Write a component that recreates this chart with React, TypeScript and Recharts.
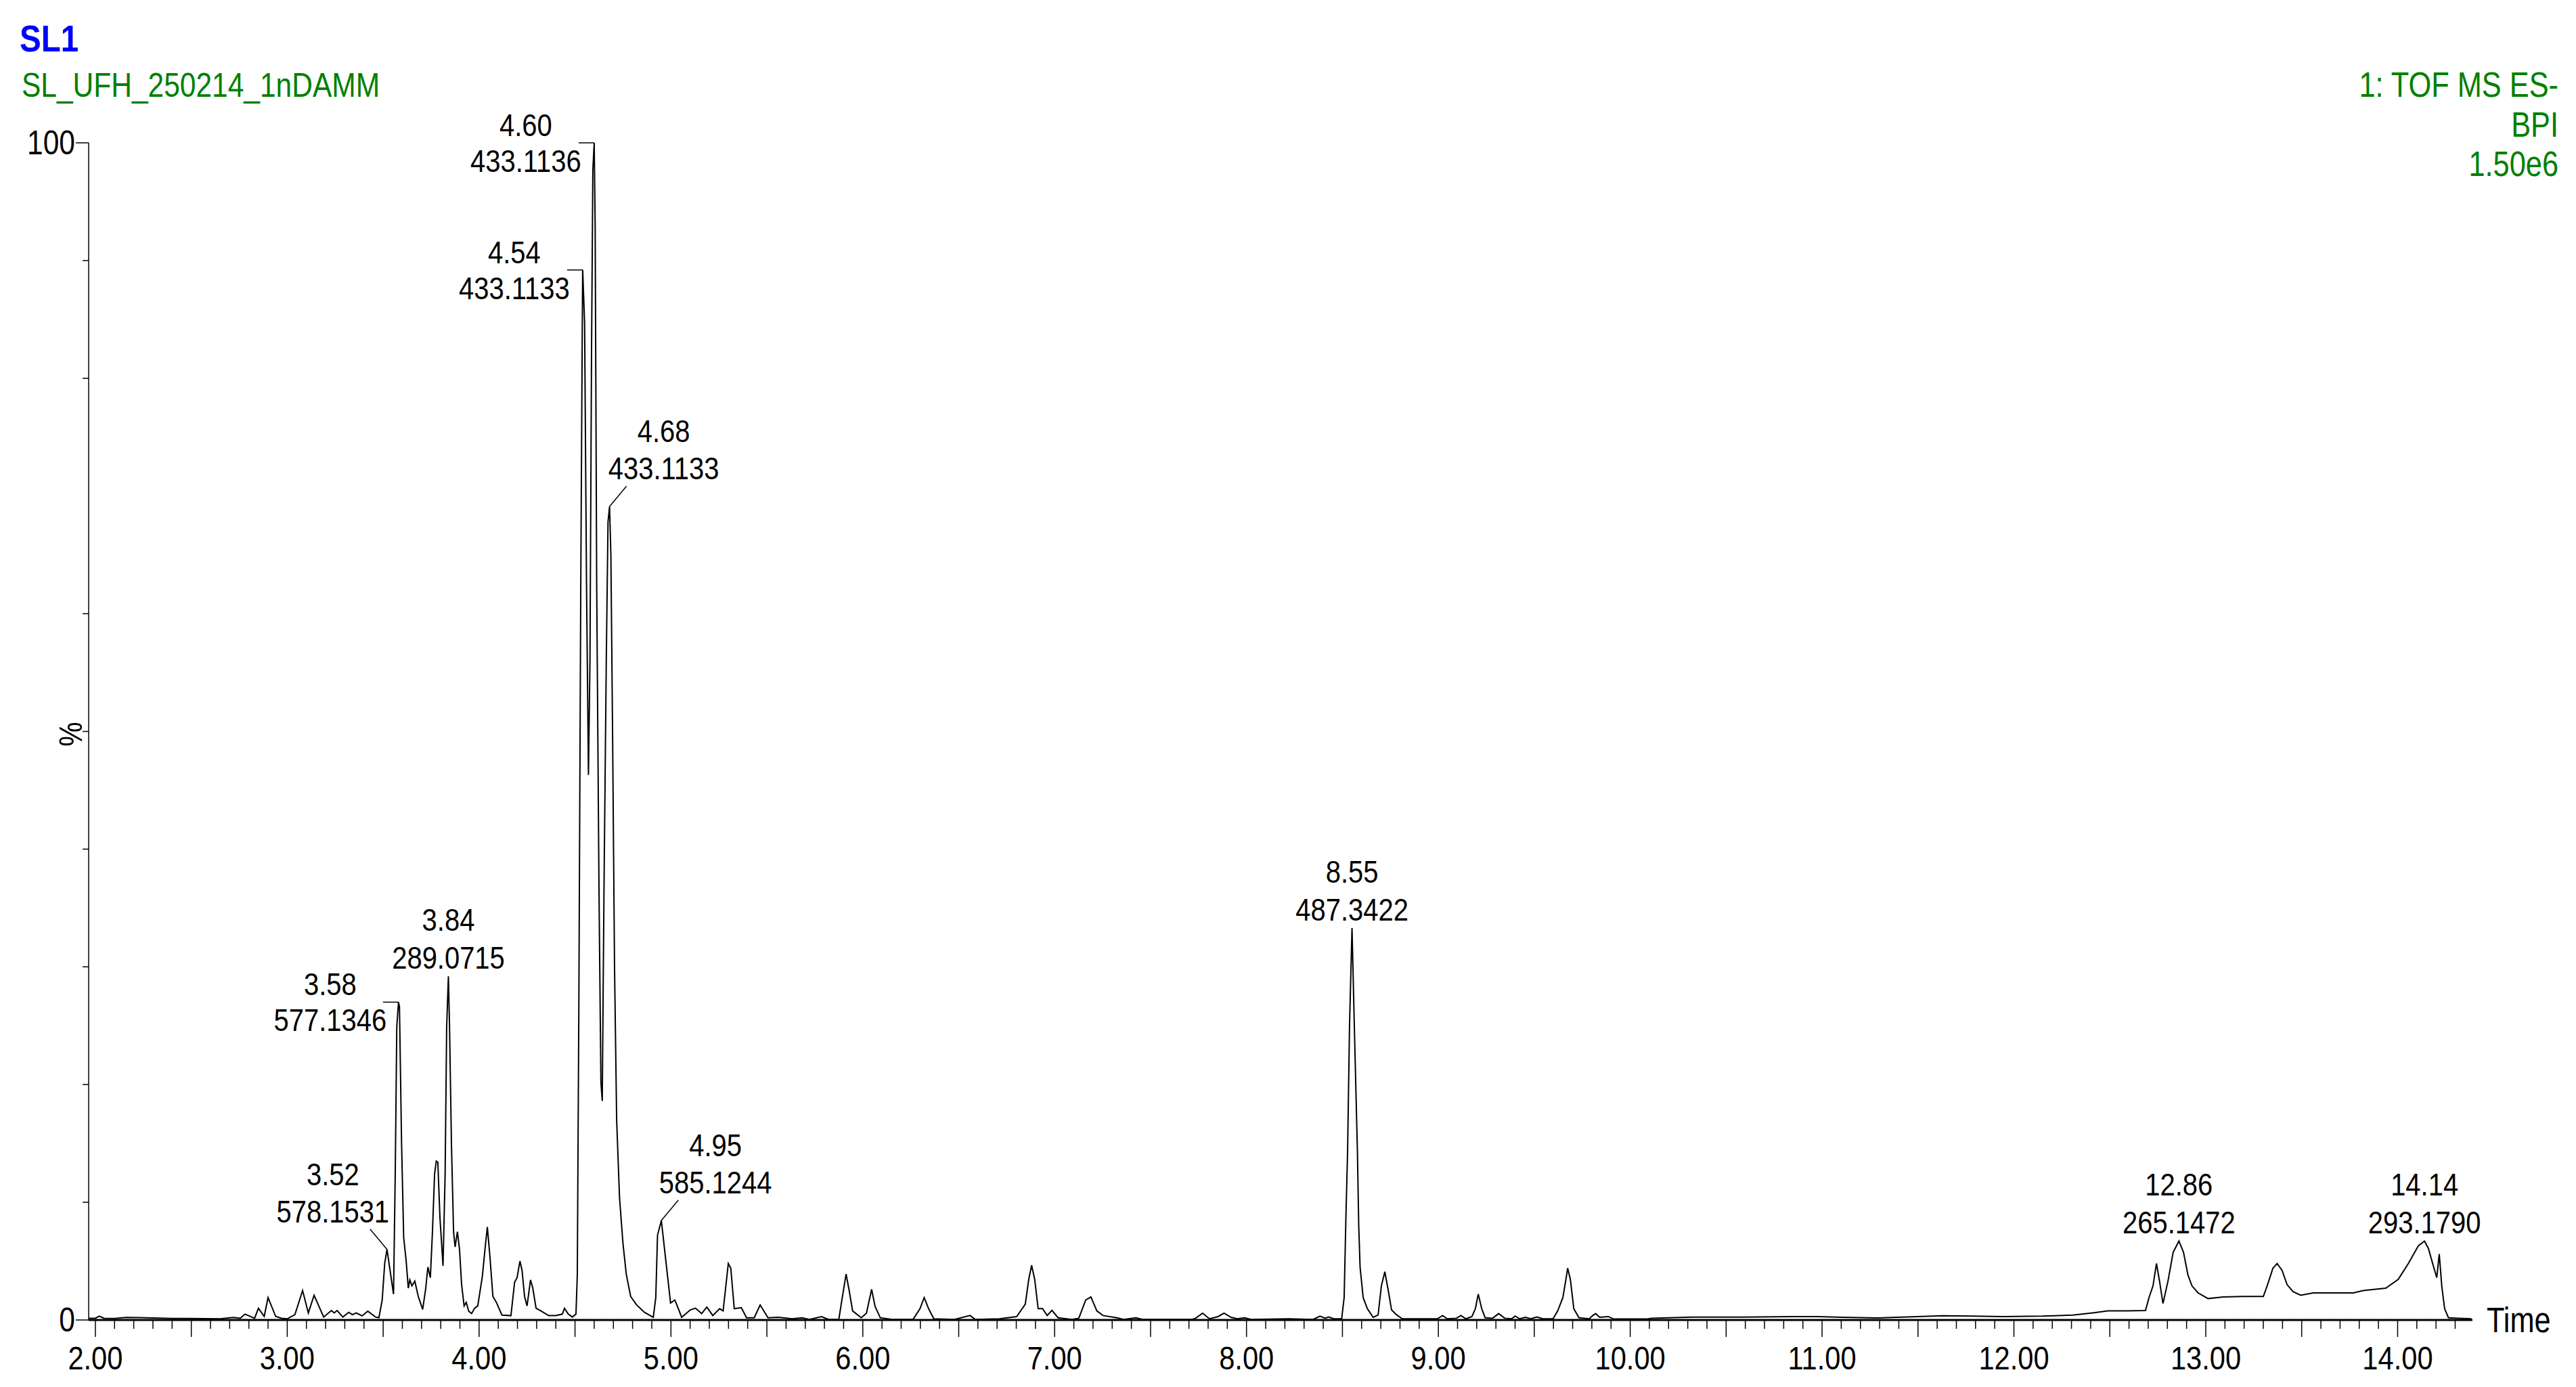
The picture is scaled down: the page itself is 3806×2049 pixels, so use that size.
import React from 'react';
import { LineChart, Line, XAxis, YAxis, ReferenceDot } from 'recharts';

// ---------- data (retention time in min, BPI intensity in % of 1.50e6) ----------
const segEarly: [number, number][] = [
  [1.965, 0.15], [2.0, 0.15], [2.02, 0.33], [2.045, 0.15], [2.1, 0.13], [2.16, 0.22], [2.23, 0.2],
  [2.3, 0.17], [2.4, 0.13], [2.48, 0.13], [2.56, 0.12], [2.65, 0.1], [2.72, 0.22], [2.755, 0.15],
  [2.78, 0.5], [2.83, 0.15], [2.85, 1.0], [2.88, 0.3], [2.9, 1.9], [2.94, 0.3], [2.97, 0.15],
  [3.0, 0.1], [3.04, 0.45], [3.08, 2.5], [3.11, 0.6], [3.14, 2.1], [3.19, 0.25], [3.23, 0.8],
  [3.245, 0.6], [3.26, 0.8], [3.29, 0.25], [3.32, 0.65], [3.34, 0.45], [3.36, 0.6], [3.39, 0.35],
  [3.42, 0.75], [3.46, 0.25], [3.478, 0.2], [3.495, 1.7], [3.508, 4.8],
];

const segCluster: [number, number][] = [
  [3.52, 6.0], [3.554, 2.2], [3.563, 12.4], [3.571, 24.9], [3.58, 27.0], [3.585, 26.6], [3.596, 15],
  [3.607, 7.0], [3.62, 5.0], [3.631, 2.7], [3.639, 3.4], [3.65, 2.9], [3.665, 3.3], [3.683, 2.0],
  [3.706, 0.9], [3.722, 2.7], [3.733, 4.5], [3.746, 3.6], [3.757, 7.5], [3.768, 12.4], [3.777, 13.5],
  [3.785, 13.4], [3.796, 8.7], [3.812, 4.6], [3.823, 12.4], [3.831, 24.9], [3.84, 29.2], [3.846, 24.9],
  [3.856, 14.9], [3.867, 7.5], [3.875, 6.2], [3.887, 7.5], [3.898, 6.0], [3.909, 3.0], [3.922, 1.2],
  [3.933, 1.5], [3.946, 0.75], [3.961, 0.55], [3.977, 1.0], [3.993, 1.2], [4.017, 3.7], [4.032, 6.2],
  [4.043, 7.9], [4.056, 5.5], [4.072, 2.0], [4.09, 1.5], [4.119, 0.42], [4.166, 0.37], [4.185, 3.2],
  [4.198, 3.6], [4.213, 5.0], [4.224, 4.2], [4.237, 2.0], [4.25, 1.2], [4.268, 3.4], [4.28, 2.7],
  [4.297, 1.0], [4.324, 0.75], [4.363, 0.37], [4.4, 0.37], [4.434, 0.5], [4.445, 1.0], [4.465, 0.5],
  [4.486, 0.25], [4.505, 0.5],
];

const segMain: [number, number][] = [
  [4.512, 3.9], [4.52, 26.7], [4.53, 62.5], [4.537, 82], [4.54, 89.2], [4.55, 84.7], [4.56, 62.5],
  [4.57, 46.3], [4.578, 56], [4.586, 82], [4.593, 97.7], [4.6, 100], [4.605, 93], [4.613, 62.5],
  [4.625, 36.5], [4.635, 20.2], [4.642, 18.6], [4.651, 36.5], [4.663, 56], [4.672, 67.8], [4.68, 69.1],
  [4.687, 65], [4.696, 49.5], [4.706, 30], [4.717, 17], [4.732, 10.4], [4.75, 6.5], [4.767, 3.9],
  [4.79, 2.0], [4.82, 1.3], [4.862, 0.65], [4.9, 0.3],
];

const segMid: [number, number][] = [
  [4.908, 0.23], [4.921, 1.9], [4.93, 7.2], [4.95, 8.45], [4.975, 4.8], [4.998, 1.44], [5.02, 1.7],
  [5.034, 1.15], [5.056, 0.23], [5.101, 0.86], [5.128, 1.0], [5.16, 0.54], [5.187, 1.1], [5.218, 0.38],
  [5.254, 0.96], [5.272, 0.77], [5.299, 4.8], [5.312, 4.4], [5.33, 0.96], [5.367, 1.05], [5.394, 0.19],
  [5.434, 0.19], [5.465, 1.28], [5.506, 0.19], [5.56, 0.23], [5.632, 0.1], [5.683, 0.19], [5.722, 0.05],
  [5.785, 0.29], [5.821, 0.05], [5.875, 0.05], [5.893, 1.9], [5.913, 3.9], [5.929, 2.5], [5.947, 0.77],
  [5.992, 0.19], [6.019, 0.58], [6.046, 2.6], [6.064, 1.15], [6.091, 0.19], [6.154, 0.05], [6.262, 0.05],
  [6.298, 0.96], [6.32, 1.9], [6.343, 0.96], [6.37, 0.1], [6.478, 0.05], [6.559, 0.38], [6.586, 0.05],
  [6.712, 0.1], [6.802, 0.29], [6.847, 1.34], [6.865, 3.45], [6.88, 4.64], [6.896, 3.45], [6.914, 0.96],
  [6.937, 0.96], [6.961, 0.38], [6.986, 0.82], [7.018, 0.19], [7.09, 0.05], [7.126, 0.15], [7.162, 1.7],
  [7.189, 1.96], [7.22, 0.77], [7.252, 0.38], [7.324, 0.19], [7.36, 0.05], [7.423, 0.19], [7.459, 0.05],
];

const segLate: [number, number][] = [
  [7.501, 0.05], [7.717, 0.05], [7.735, 0.15], [7.771, 0.58], [7.807, 0.1], [7.852, 0.29], [7.883, 0.58],
  [7.919, 0.23], [7.951, 0.1], [7.991, 0.19], [8.023, 0.05], [8.221, 0.1], [8.347, 0.05], [8.383, 0.33],
  [8.41, 0.15], [8.428, 0.25], [8.455, 0.1], [8.496, 0.1], [8.509, 1.9], [8.518, 8.6], [8.527, 14.4],
  [8.537, 25], [8.55, 33.3], [8.562, 25], [8.578, 14.4], [8.585, 8.0], [8.592, 4.5], [8.608, 1.9],
  [8.63, 0.96], [8.66, 0.23], [8.686, 0.42], [8.703, 2.9], [8.721, 4.1], [8.739, 2.5], [8.756, 0.86],
  [8.779, 0.48], [8.812, 0.1], [8.995, 0.1], [9.022, 0.38], [9.046, 0.1], [9.094, 0.15], [9.118, 0.38],
  [9.143, 0.1], [9.175, 0.29], [9.193, 0.96], [9.208, 2.2], [9.226, 0.96], [9.244, 0.19], [9.283, 0.15],
  [9.314, 0.54], [9.346, 0.15], [9.382, 0.1], [9.4, 0.33], [9.424, 0.1], [9.454, 0.23], [9.481, 0.1],
  [9.514, 0.25], [9.544, 0.1], [9.598, 0.1], [9.622, 0.77], [9.649, 1.9], [9.665, 3.45], [9.674, 4.4],
  [9.688, 3.45], [9.706, 0.96], [9.733, 0.19], [9.787, 0.1], [9.805, 0.38], [9.82, 0.54], [9.841, 0.23],
  [9.886, 0.29], [9.913, 0.08], [10.093, 0.1], [10.111, 0.15], [10.2, 0.19],
];

const segEnd: [number, number][] = [
  [10.324, 0.25], [10.585, 0.25], [10.846, 0.29], [10.976, 0.29], [11.107, 0.23], [11.29, 0.17],
  [11.42, 0.25], [11.629, 0.36], [11.785, 0.33], [11.942, 0.29], [12.15, 0.33], [12.307, 0.42],
  [12.412, 0.61], [12.49, 0.77], [12.594, 0.77], [12.686, 0.8], [12.704, 1.9], [12.725, 2.9],
  [12.743, 4.8], [12.759, 3.3], [12.777, 1.4], [12.803, 3.3], [12.83, 5.75], [12.86, 6.7], [12.884, 5.75],
  [12.907, 3.83], [12.928, 2.9], [12.96, 2.3], [13.012, 1.82], [13.09, 1.96], [13.195, 2.0], [13.3, 2.0],
  [13.32, 2.9], [13.35, 4.4], [13.372, 4.8], [13.398, 4.2], [13.424, 3.0], [13.455, 2.4], [13.495, 2.1],
  [13.56, 2.3], [13.664, 2.3], [13.769, 2.3], [13.821, 2.5], [13.938, 2.7], [14.003, 3.45], [14.056, 4.8],
  [14.108, 6.3], [14.14, 6.7], [14.16, 6.1], [14.186, 4.6], [14.204, 3.6], [14.217, 5.6], [14.23, 2.9],
  [14.245, 0.96], [14.265, 0.19], [14.317, 0.15], [14.385, 0.1],
];

// ---------- annotated peaks ----------
const peakRT = [3.52, 3.58, 3.84, 4.54, 4.6, 4.68, 4.95, 8.55, 12.86, 14.14];
const peakMz = ['578.1531', '577.1346', '289.0715', '433.1133', '433.1136', '433.1133', '585.1244', '487.3422', '265.1472', '293.1790'];
const peakApex = [6.0, 27.0, 29.2, 89.2, 100, 69.1, 8.45, 33.3, 6.7, 6.7];
const peakPlacement = ['diagLeft', 'left', 'above', 'left', 'left', 'diagRight', 'diagRight', 'above', 'above', 'above'];

// ---------- axes ----------
const xTickLabels = ['2.00', '3.00', '4.00', '5.00', '6.00', '7.00', '8.00', '9.00', '10.00', '11.00', '12.00', '13.00', '14.00'];
const yTickValues = [0, 10, 20, 30, 40, 50, 60, 80, 90, 100];
const titleSample = 'SL1';
const titleFile = 'SL_UFH_250214_1nDAMM';
const titleRight = ['1: TOF MS ES-', 'BPI', '1.50e6'];

const FONT = "'Liberation Sans', Arial, sans-serif";
const SX = 0.85; // horizontal condensing of the instrument font

const data = [...segEarly, ...segCluster, ...segMain, ...segMid, ...segLate, ...segEnd].map(([t, v]) => ({ t, v }));
const xTicks = Array.from({ length: 124 }, (_, i) => Math.round((2 + i * 0.1) * 10) / 10);

const NText = ({ x, y, anchor = 'start', size = 48, fill = '#000', weight = 'normal', rotate = 0, children }: any) => (
  <text
    transform={`translate(${x},${y})${rotate ? ` rotate(${rotate})` : ''} scale(${SX},1)`}
    textAnchor={anchor}
    fontFamily={FONT}
    fontSize={size}
    fontWeight={weight}
    fill={fill}
  >
    {children}
  </text>
);

const XTick = (props: any) => {
  const { x, y, payload } = props;
  const tenths = Math.round(payload.value * 10);
  const major = tenths % 5 === 0;
  const labelled = tenths % 10 === 0;
  const label = labelled ? xTickLabels[tenths / 10 - 2] : null;
  return (
    <g>
      <line x1={x} x2={x} y1={y + 1} y2={y + (major ? 25 : 13)} stroke="#000" strokeWidth={1.5} />
      {label && (
        <NText x={x} y={y + 73} anchor="middle" size={49}>
          {label}
        </NText>
      )}
    </g>
  );
};

const YTick = (props: any) => {
  const { x, y, payload } = props;
  const v = payload.value;
  const major = v === 0 || v === 100;
  return (
    <g>
      <line x1={x - (major ? 19 : 9)} x2={x} y1={y} y2={y} stroke="#000" strokeWidth={1.5} />
      {major && (
        <NText x={x - 20} y={y + 17} anchor="end" size={50}>
          {v}
        </NText>
      )}
    </g>
  );
};

const PeakLabel = ({ cx, cy, rt, mz, placement }: any) => {
  const fs = 47;
  if (placement === 'above') {
    return (
      <g>
        <NText x={cx} y={cy - 67} anchor="middle" size={fs}>{rt}</NText>
        <NText x={cx} y={cy - 11} anchor="middle" size={fs}>{mz}</NText>
      </g>
    );
  }
  if (placement === 'left') {
    const c = cx - 101;
    return (
      <g>
        <line x1={cx - 23} x2={cx} y1={cy} y2={cy} stroke="#000" strokeWidth={1.5} />
        <NText x={c} y={cy - 10} anchor="middle" size={fs}>{rt}</NText>
        <NText x={c} y={cy + 43} anchor="middle" size={fs}>{mz}</NText>
      </g>
    );
  }
  const dir = placement === 'diagRight' ? 1 : -1;
  const c = cx + dir * 80;
  return (
    <g>
      <line x1={cx} y1={cy} x2={cx + dir * 25} y2={cy - 30} stroke="#000" strokeWidth={1.5} />
      <NText x={c} y={cy - 95} anchor="middle" size={fs}>{rt}</NText>
      <NText x={c} y={cy - 40} anchor="middle" size={fs}>{mz}</NText>
    </g>
  );
};

export default function App() {
  return (
    <div style={{ position: 'absolute', left: 0, top: 0, width: 3806, height: 2049, background: '#fff' }}>
      <LineChart width={3806} height={2049} data={data} margin={{ top: 211, right: 153, bottom: 0, left: 0 }}>
        <XAxis
          dataKey="t"
          type="number"
          domain={[1.965, 14.39]}
          allowDataOverflow
          ticks={xTicks}
          interval={0}
          tick={<XTick />}
          tickLine={false}
          tickSize={0}
          tickMargin={0}
          height={99}
          axisLine={{ stroke: '#000', strokeWidth: 3 }}
          label={{
            content: (p: any) => {
              const vb = p.viewBox || {};
              return (
                <NText x={vb.x + vb.width + 21} y={vb.y + 18} size={51}>
                  Time
                </NText>
              );
            },
          }}
        />
        <YAxis
          type="number"
          domain={[0, 100]}
          ticks={yTickValues}
          interval={0}
          tick={<YTick />}
          tickLine={false}
          tickSize={0}
          tickMargin={0}
          width={131}
          axisLine={{ stroke: '#000', strokeWidth: 1.5 }}
          label={{
            content: (p: any) => {
              const vb = p.viewBox || {};
              const cy = vb.y + vb.height / 2 + 4;
              return (
                <NText x={121} y={cy} anchor="middle" size={48} rotate={-90}>
                  %
                </NText>
              );
            },
          }}
        />
        <Line
          type="linear"
          dataKey="v"
          stroke="#000"
          strokeWidth={2}
          dot={false}
          activeDot={false}
          isAnimationActive={false}
        />
        {peakRT.map((rt, i) => (
          <ReferenceDot
            key={`pk${i}`}
            x={rt}
            y={peakApex[i]}
            r={0}
            ifOverflow="visible"
            shape={(p: any) => (
              <PeakLabel cx={p.cx} cy={p.cy} rt={rt.toFixed(2)} mz={peakMz[i]} placement={peakPlacement[i]} />
            )}
          />
        ))}
      </LineChart>
      <svg
        width={3806}
        height={2049}
        style={{ position: 'absolute', left: 0, top: 0, pointerEvents: 'none' }}
      >
        <NText x={29} y={76} size={56} weight="bold" fill="#0000ff">
          {titleSample}
        </NText>
        <NText x={32} y={143} size={50} fill="#008000">
          {titleFile}
        </NText>
        {titleRight.map((s, i) => (
          <NText key={s} x={3780} y={143 + i * 58.5} anchor="end" size={51} fill="#008000">
            {s}
          </NText>
        ))}
      </svg>
    </div>
  );
}
